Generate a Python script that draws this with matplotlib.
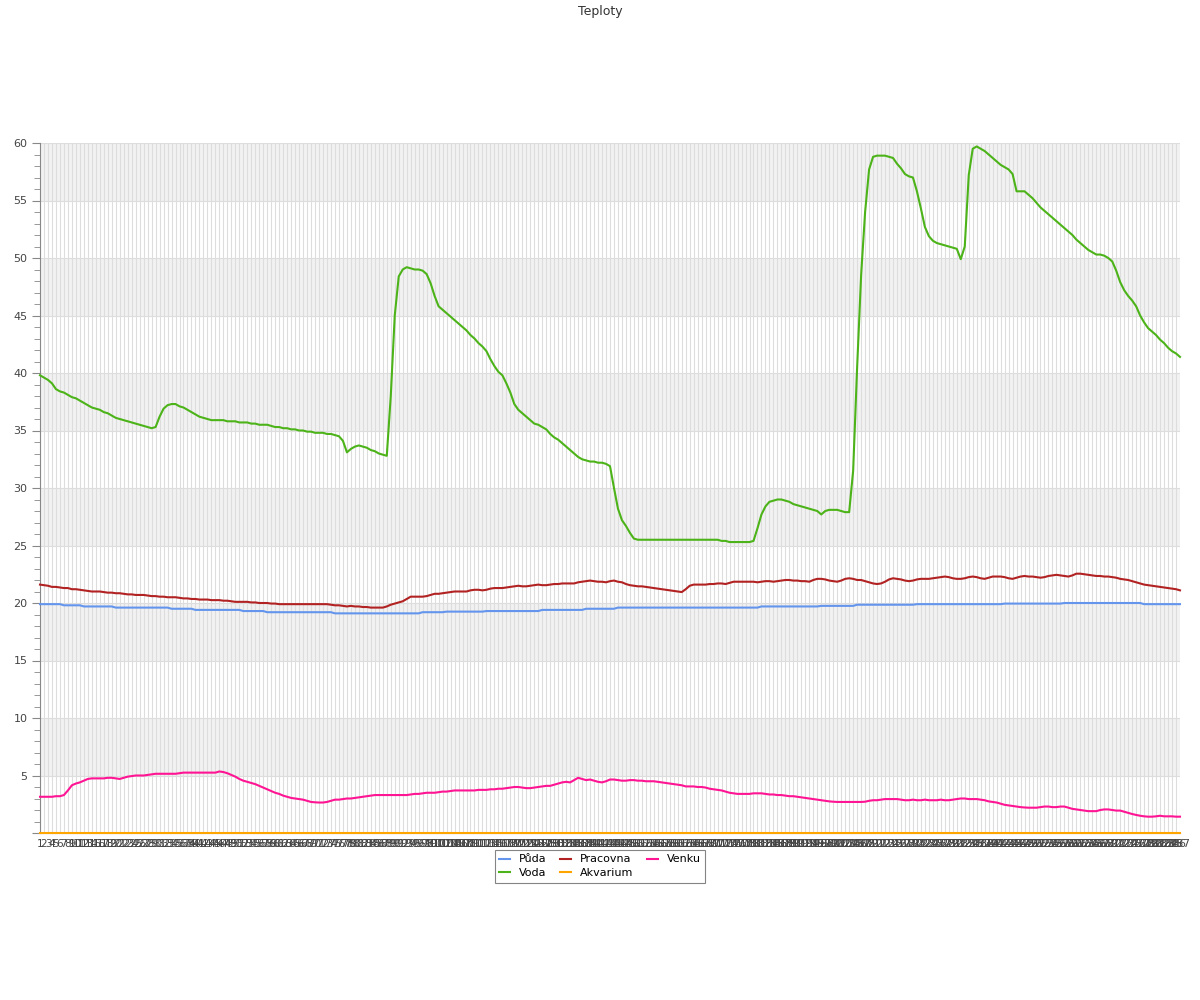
import matplotlib
matplotlib.use("Agg")
import matplotlib.pyplot as plt

# x categories: measurement numbers 1..287
labels = [str(n) for n in range(1, 288)]

puda = [
    19.9, 19.9, 19.9, 19.9, 19.9, 19.9, 19.8, 19.8, 19.8, 19.8,
    19.8, 19.7, 19.7, 19.7, 19.7, 19.7, 19.7, 19.7, 19.7, 19.6,
    19.6, 19.6, 19.6, 19.6, 19.6, 19.6, 19.6, 19.6, 19.6, 19.6,
    19.6, 19.6, 19.6, 19.5, 19.5, 19.5, 19.5, 19.5, 19.5, 19.4,
    19.4, 19.4, 19.4, 19.4, 19.4, 19.4, 19.4, 19.4, 19.4, 19.4,
    19.4, 19.3, 19.3, 19.3, 19.3, 19.3, 19.3, 19.2, 19.2, 19.2,
    19.2, 19.2, 19.2, 19.2, 19.2, 19.2, 19.2, 19.2, 19.2, 19.2,
    19.2, 19.2, 19.2, 19.2, 19.1, 19.1, 19.1, 19.1, 19.1, 19.1,
    19.1, 19.1, 19.1, 19.1, 19.1, 19.1, 19.1, 19.1, 19.1, 19.1,
    19.1, 19.1, 19.1, 19.1, 19.1, 19.1, 19.2, 19.2, 19.2, 19.2,
    19.2, 19.2, 19.25, 19.25, 19.25, 19.25, 19.25, 19.25, 19.25, 19.25,
    19.25, 19.25, 19.3, 19.3, 19.3, 19.3, 19.3, 19.3, 19.3, 19.3,
    19.3, 19.3, 19.3, 19.3, 19.3, 19.3, 19.4, 19.4, 19.4, 19.4,
    19.4, 19.4, 19.4, 19.4, 19.4, 19.4, 19.4, 19.5, 19.5, 19.5,
    19.5, 19.5, 19.5, 19.5, 19.5, 19.6, 19.6, 19.6, 19.6, 19.6,
    19.6, 19.6, 19.6, 19.6, 19.6, 19.6, 19.6, 19.6, 19.6, 19.6,
    19.6, 19.6, 19.6, 19.6, 19.6, 19.6, 19.6, 19.6, 19.6, 19.6,
    19.6, 19.6, 19.6, 19.6, 19.6, 19.6, 19.6, 19.6, 19.6, 19.6,
    19.6, 19.7, 19.7, 19.7, 19.7, 19.7, 19.7, 19.7, 19.7, 19.7,
    19.7, 19.7, 19.7, 19.7, 19.7, 19.7, 19.75, 19.75, 19.75, 19.75,
    19.75, 19.75, 19.75, 19.75, 19.75, 19.85, 19.85, 19.85, 19.85, 19.85,
    19.85, 19.85, 19.85, 19.85, 19.85, 19.85, 19.85, 19.85, 19.85, 19.85,
    19.9, 19.9, 19.9, 19.9, 19.9, 19.9, 19.9, 19.9, 19.9, 19.9,
    19.9, 19.9, 19.9, 19.9, 19.9, 19.9, 19.9, 19.9, 19.9, 19.9,
    19.9, 19.9, 19.95, 19.95, 19.95, 19.95, 19.95, 19.95, 19.95, 19.95,
    19.95, 19.95, 19.95, 19.95, 19.95, 19.95, 19.95, 20.0, 20.0, 20.0,
    20.0, 20.0, 20.0, 20.0, 20.0, 20.0, 20.0, 20.0, 20.0, 20.0,
    20.0, 20.0, 20.0, 20.0, 20.0, 20.0, 20.0, 19.9, 19.9, 19.9,
    19.9, 19.9, 19.9, 19.9, 19.9, 19.9, 19.9,
]

voda = [
    39.8, 39.6, 39.4, 39.1, 38.6, 38.4, 38.3, 38.1, 37.9, 37.8,
    37.6, 37.4, 37.2, 37.0, 36.9, 36.8, 36.6, 36.5, 36.3, 36.1,
    36.0, 35.9, 35.8, 35.7, 35.6, 35.5, 35.4, 35.3, 35.2, 35.3,
    36.2, 36.9, 37.2, 37.3, 37.3, 37.1, 37.0, 36.8, 36.6, 36.4,
    36.2, 36.1, 36.0, 35.9, 35.9, 35.9, 35.9, 35.8, 35.8, 35.8,
    35.7, 35.7, 35.7, 35.6, 35.6, 35.5, 35.5, 35.5, 35.4, 35.3,
    35.3, 35.2, 35.2, 35.1, 35.1, 35.0, 35.0, 34.9, 34.9, 34.8,
    34.8, 34.8, 34.7, 34.7, 34.6, 34.5, 34.1, 33.1, 33.4, 33.6,
    33.7, 33.6, 33.5, 33.3, 33.2, 33.0, 32.9, 32.8, 38.0, 45.0,
    48.4, 49.0, 49.2, 49.1, 49.0, 49.0, 48.9, 48.6, 47.8, 46.7,
    45.8, 45.5, 45.2, 44.9, 44.6, 44.3, 44.0, 43.7, 43.3, 43.0,
    42.6, 42.3, 41.9, 41.2, 40.6, 40.1, 39.8, 39.1, 38.3, 37.3,
    36.8, 36.5, 36.2, 35.9, 35.6, 35.5, 35.3, 35.1, 34.7, 34.4,
    34.2, 33.9, 33.6, 33.3, 33.0, 32.7, 32.5, 32.4, 32.3, 32.3,
    32.2, 32.2, 32.1, 31.9, 30.0, 28.2, 27.2, 26.7, 26.1, 25.6,
    25.5, 25.5, 25.5, 25.5, 25.5, 25.5, 25.5, 25.5, 25.5, 25.5,
    25.5, 25.5, 25.5, 25.5, 25.5, 25.5, 25.5, 25.5, 25.5, 25.5,
    25.5, 25.4, 25.4, 25.3, 25.3, 25.3, 25.3, 25.3, 25.3, 25.4,
    26.5, 27.7, 28.4, 28.8, 28.9, 29.0, 29.0, 28.9, 28.8, 28.6,
    28.5, 28.4, 28.3, 28.2, 28.1, 28.0, 27.7, 28.0, 28.1, 28.1,
    28.1, 28.0, 27.9, 27.9, 31.5, 40.5, 48.5, 54.0, 57.7, 58.8,
    58.9, 58.9, 58.9, 58.8, 58.7, 58.2, 57.8, 57.3, 57.1, 57.0,
    55.8, 54.3, 52.7, 51.9, 51.5, 51.3, 51.2, 51.1, 51.0, 50.9,
    50.8, 49.9, 51.0, 57.2, 59.5, 59.7, 59.5, 59.3, 59.0, 58.7,
    58.4, 58.1, 57.9, 57.7, 57.3, 55.8, 55.8, 55.8, 55.5, 55.2,
    54.8, 54.4, 54.1, 53.8, 53.5, 53.2, 52.9, 52.6, 52.3, 52.0,
    51.6, 51.3, 51.0, 50.7, 50.5, 50.3, 50.3, 50.2, 50.0, 49.7,
    48.9, 47.9, 47.2, 46.7, 46.3, 45.8, 45.0, 44.4, 43.9, 43.6,
    43.3, 42.9, 42.6, 42.2, 41.9, 41.7, 41.4,
]

pracovna = [
    21.6, 21.55, 21.5, 21.4, 21.4, 21.35, 21.3, 21.3, 21.2, 21.2,
    21.15, 21.1, 21.05, 21.0, 21.0, 21.0, 20.95, 20.9, 20.9, 20.85,
    20.85, 20.8, 20.75, 20.75, 20.7, 20.7, 20.7, 20.65, 20.6, 20.6,
    20.55, 20.55, 20.5, 20.5, 20.5, 20.45, 20.4, 20.4, 20.35, 20.35,
    20.3, 20.3, 20.3, 20.25, 20.25, 20.25, 20.2, 20.2, 20.15, 20.1,
    20.1, 20.1, 20.1, 20.05, 20.05, 20.0, 20.0, 20.0, 19.95, 19.95,
    19.9, 19.9, 19.9, 19.9, 19.9, 19.9, 19.9, 19.9, 19.9, 19.9,
    19.9, 19.9, 19.9, 19.85, 19.8, 19.8, 19.75, 19.7, 19.75, 19.7,
    19.7, 19.65, 19.65, 19.6, 19.6, 19.6, 19.6, 19.7, 19.85, 19.95,
    20.05, 20.15, 20.35, 20.55, 20.55, 20.55, 20.55, 20.6, 20.7, 20.8,
    20.8, 20.85, 20.9, 20.95, 21.0, 21.0, 21.0, 21.0, 21.1, 21.15,
    21.15, 21.1, 21.15, 21.25, 21.3, 21.3, 21.3, 21.35, 21.4, 21.45,
    21.5, 21.45, 21.45, 21.5, 21.55, 21.6, 21.55, 21.55, 21.6, 21.65,
    21.65, 21.7, 21.7, 21.7, 21.7, 21.8, 21.85, 21.9, 21.95, 21.9,
    21.85, 21.85, 21.8, 21.9, 21.95, 21.85, 21.8, 21.65, 21.55, 21.5,
    21.45, 21.45, 21.4, 21.35, 21.3, 21.25, 21.2, 21.15, 21.1, 21.05,
    21.0, 20.95, 21.2, 21.5, 21.6, 21.6, 21.6, 21.6, 21.65, 21.65,
    21.7, 21.7, 21.65, 21.75, 21.85, 21.85, 21.85, 21.85, 21.85, 21.85,
    21.8, 21.85, 21.9, 21.9, 21.85, 21.9, 21.95, 22.0, 22.0, 21.95,
    21.95, 21.9, 21.9, 21.85, 22.0, 22.1, 22.1, 22.05, 21.95, 21.9,
    21.85, 21.95, 22.1, 22.15, 22.1, 22.0, 22.0, 21.9, 21.8, 21.7,
    21.65, 21.7, 21.85, 22.05, 22.15, 22.1, 22.05, 21.95, 21.9, 21.95,
    22.05, 22.1, 22.1, 22.1, 22.15, 22.2, 22.25, 22.3, 22.25, 22.15,
    22.1, 22.1, 22.15, 22.25, 22.3, 22.25, 22.15, 22.1, 22.2, 22.3,
    22.3, 22.3, 22.25, 22.15, 22.1, 22.2, 22.3, 22.35, 22.3, 22.3,
    22.25, 22.2, 22.25, 22.35, 22.4, 22.45, 22.4, 22.35, 22.3, 22.4,
    22.55, 22.55, 22.5, 22.45, 22.4, 22.35, 22.35, 22.3, 22.3, 22.25,
    22.2, 22.1, 22.05, 22.0, 21.9, 21.8, 21.7, 21.6, 21.55, 21.5,
    21.45, 21.4, 21.35, 21.3, 21.25, 21.2, 21.1,
]

# aquarium sensor reads 0 over the whole period
akvarium = [0.0 for _ in labels]

venku = [
    3.15, 3.15, 3.15, 3.15, 3.2, 3.2, 3.3, 3.7, 4.15, 4.3,
    4.4, 4.55, 4.7, 4.75, 4.75, 4.75, 4.75, 4.8, 4.8, 4.75,
    4.7, 4.8, 4.9, 4.95, 5.0, 5.0, 5.0, 5.05, 5.1, 5.15,
    5.15, 5.15, 5.15, 5.15, 5.15, 5.2, 5.25, 5.25, 5.25, 5.25,
    5.25, 5.25, 5.25, 5.25, 5.25, 5.35, 5.3, 5.2, 5.05, 4.9,
    4.7, 4.55, 4.45, 4.35, 4.25, 4.1, 3.95, 3.8, 3.65, 3.5,
    3.4, 3.25, 3.15, 3.05, 3.0, 2.95, 2.9, 2.8, 2.7, 2.67,
    2.65, 2.65, 2.7, 2.8, 2.9, 2.9, 2.95, 3.0, 3.0, 3.05,
    3.1, 3.15, 3.2, 3.25, 3.3, 3.3, 3.3, 3.3, 3.3, 3.3,
    3.3, 3.3, 3.3, 3.35, 3.4, 3.4, 3.45, 3.5, 3.5, 3.5,
    3.55, 3.6, 3.6, 3.65, 3.7, 3.7, 3.7, 3.7, 3.7, 3.7,
    3.75, 3.75, 3.75, 3.8, 3.8, 3.85, 3.85, 3.9, 3.95, 4.0,
    4.0, 3.95, 3.9, 3.9, 3.95, 4.0, 4.05, 4.1, 4.1, 4.2,
    4.3, 4.4, 4.45, 4.4, 4.6, 4.8, 4.7, 4.6, 4.65, 4.55,
    4.45, 4.4, 4.5, 4.65, 4.65, 4.6, 4.55, 4.55, 4.6, 4.6,
    4.55, 4.55, 4.5, 4.5, 4.5, 4.45, 4.4, 4.35, 4.3, 4.25,
    4.2, 4.15, 4.05, 4.05, 4.05, 4.0, 4.0, 3.95, 3.85, 3.8,
    3.75, 3.7, 3.6, 3.5, 3.45, 3.4, 3.4, 3.4, 3.4, 3.45,
    3.45, 3.45, 3.4, 3.35, 3.35, 3.3, 3.3, 3.25, 3.2, 3.2,
    3.15, 3.1, 3.05, 3.0, 2.95, 2.9, 2.85, 2.8, 2.75, 2.72,
    2.7, 2.7, 2.7, 2.7, 2.7, 2.7, 2.7, 2.72, 2.8, 2.85,
    2.85, 2.9, 2.95, 2.95, 2.95, 2.95, 2.9, 2.85, 2.85, 2.9,
    2.85, 2.85, 2.9, 2.85, 2.85, 2.85, 2.9, 2.85, 2.85, 2.9,
    2.95, 3.0, 3.0, 2.95, 2.95, 2.95, 2.9, 2.85, 2.75, 2.7,
    2.65, 2.55, 2.45, 2.4, 2.35, 2.3, 2.25, 2.22, 2.2, 2.2,
    2.2, 2.25, 2.3, 2.3, 2.25, 2.25, 2.3, 2.3, 2.2, 2.1,
    2.05, 2.0, 1.95, 1.9, 1.9, 1.9, 2.0, 2.05, 2.05, 2.0,
    1.95, 1.95, 1.85, 1.75, 1.65, 1.57, 1.5, 1.45, 1.42, 1.42,
    1.45, 1.5, 1.45, 1.45, 1.45, 1.42, 1.42,
]

series = [
    ("Půda", puda, "#6495ed"),
    ("Voda", voda, "#4cb319"),
    ("Pracovna", pracovna, "#b22222"),
    ("Akvarium", akvarium, "#ffa500"),
    ("Venku", venku, "#ff1493"),
]

fig = plt.figure(figsize=(12, 10), dpi=100)
ax = fig.add_axes([40 / 1200, 1 - 833 / 1000, 1140 / 1200, 690 / 1000])

x = list(range(len(labels)))
for name, vals, col in series:
    ax.plot(x, vals, color=col, lw=1.5, label=name, clip_on=False, zorder=3)

ax.set_xlim(0, len(labels) - 1)
ax.set_ylim(0, 60)

# alternating bands every 5 degrees
yt = list(range(0, 61, 5))
for k in range(len(yt) - 1):
    if k % 2 == 1:
        ax.axhspan(yt[k], yt[k + 1], color="#f2f2f2", zorder=0, lw=0)

ax.set_yticks(yt)
ax.set_yticklabels([""] + [str(v) for v in yt[1:]])
ax.set_yticks(range(0, 61), minor=True)
ax.set_xticks(x)
ax.set_xticklabels(labels, fontsize=7.5, color="#444444")

ax.grid(True, axis="both", which="major", color="#dddddd", lw=0.8, zorder=1)
ax.set_axisbelow(True)

ax.tick_params(axis="y", which="major", length=6, color="#888888",
               labelsize=8, labelcolor="#444444", pad=3)
ax.tick_params(axis="y", which="minor", length=4, color="#888888")
ax.tick_params(axis="x", length=0, pad=4)

for s in ["top", "right"]:
    ax.spines[s].set_visible(False)
for s in ["left", "bottom"]:
    ax.spines[s].set_color("#888888")

fig.text(0.5, 1 - 11 / 1000, "Teploty", ha="center", va="center",
         fontsize=9, color="#333333")

leg = fig.legend(loc="upper center", bbox_to_anchor=(0.5, 1 - 850 / 1000),
                 borderaxespad=0, ncol=3, fontsize=8, frameon=True,
                 fancybox=False, handlelength=1.0, columnspacing=1.2,
                 borderpad=0.4, labelspacing=0.35, handletextpad=0.8)
leg.get_frame().set_edgecolor("#666666")
leg.get_frame().set_linewidth(0.8)

fig.savefig("out.png", dpi=100)
